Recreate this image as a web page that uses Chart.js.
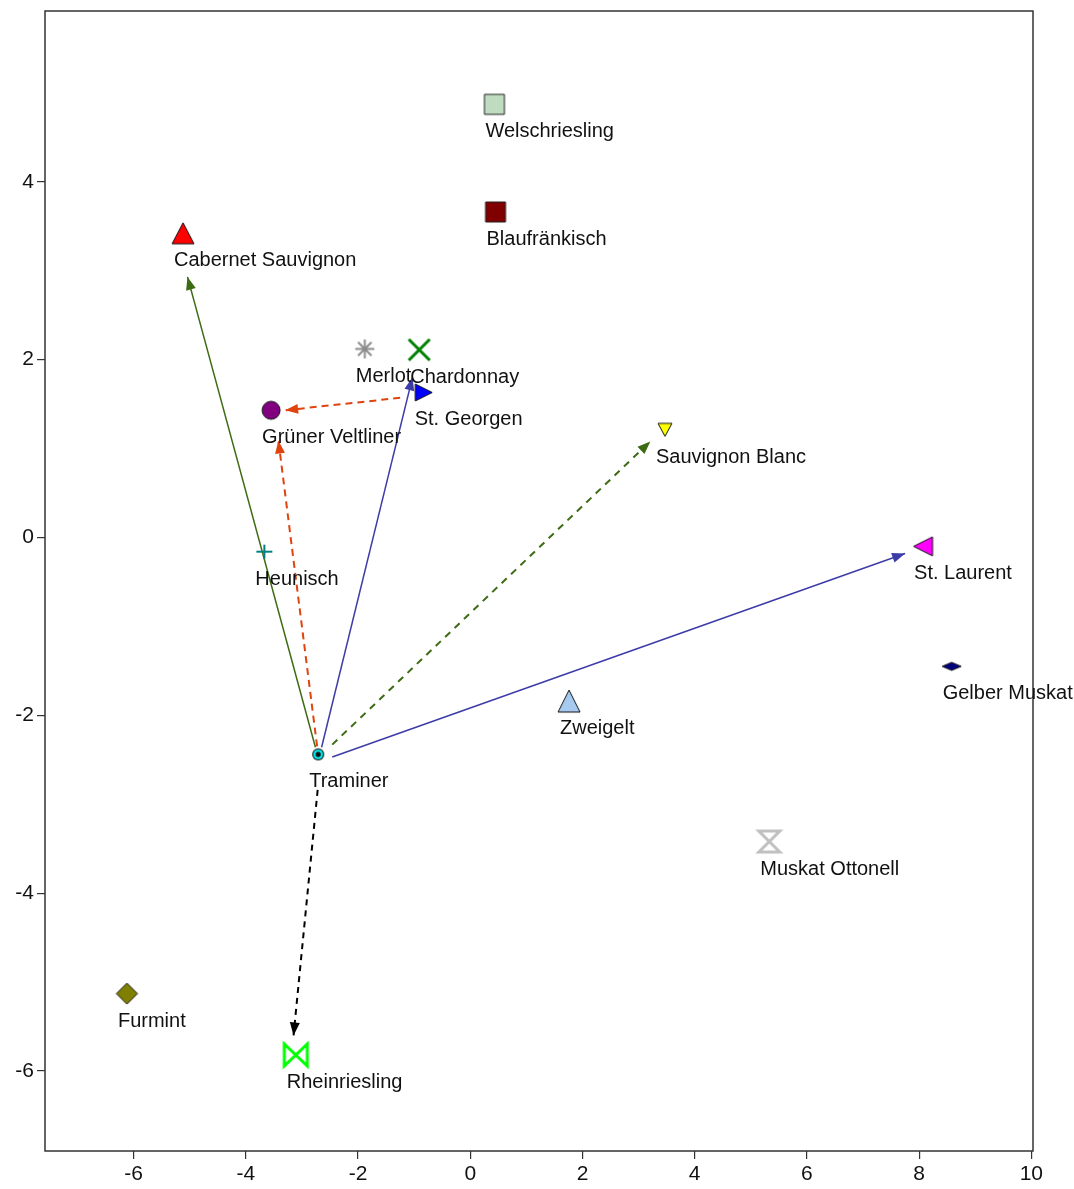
<!DOCTYPE html>
<html>
<head>
<meta charset="utf-8">
<title>Rebsorten – Biplot</title>
<script src="https://cdn.jsdelivr.net/npm/chart.js@4"></script>
<style>
  html, body { margin: 0; padding: 0; background: #ffffff; }
  #wrap { width: 1074px; height: 1189px; }
</style>
</head>
<body>
<div id="wrap"><canvas id="plot" width="1074" height="1189"></canvas></div>
<script>
// Grape varieties and their coordinates on the two map dimensions
const varieties = [
  'Welschriesling', 'Blaufränkisch', 'Cabernet Sauvignon', 'Merlot', 'Chardonnay',
  'St. Georgen', 'Grüner Veltliner', 'Sauvignon Blanc', 'Heunisch', 'St. Laurent',
  'Gelber Muskat', 'Zweigelt', 'Traminer', 'Muskat Ottonell', 'Furmint', 'Rheinriesling'
];
const dimX = [0.43, 0.45, -5.12, -1.88, -0.91, -0.83, -3.55, 3.47, -3.67, 8.07, 8.58, 1.76, -2.71, 5.33, -6.12, -3.11];
const dimY = [4.87, 3.66, 3.42, 2.12, 2.11, 1.63, 1.43, 1.21, -0.16, -0.10, -1.45, -1.84, -2.44, -3.42, -5.13, -5.82];

// Arrows (start and end on the same map coordinates)
const arrowFromX = [-2.76, -2.65, -2.73, -1.25, -2.46, -2.46, -2.72];
const arrowFromY = [-2.36, -2.36, -2.35, 1.57, -2.33, -2.47, -2.84];
const arrowToX   = [-5.04, -1.03, -3.42, -3.30, 3.21, 7.75, -3.15];
const arrowToY   = [2.93, 1.80, 1.09, 1.43, 1.08, -0.18, -5.60];

// Axis ticks
const xTicks = [-6, -4, -2, 0, 2, 4, 6, 8, 10];
const yTicks = [-6, -4, -2, 0, 2, 4];

// ---- Marker look for each variety ----
const markerLook = {
  'Welschriesling':     { kind: 'square',    w: 20, h: 20, fill: '#c0dcc0', stroke: '#222', lw: 1 },
  'Blaufränkisch':      { kind: 'square',    w: 20, h: 20, fill: '#800000', stroke: '#222', lw: 1 },
  'Cabernet Sauvignon': { kind: 'triUp',     w: 22, h: 21, fill: '#ff0000', stroke: '#111', lw: 1 },
  'Merlot':             { kind: 'asterisk',  w: 19, h: 19, fill: 'none',    stroke: '#8c8c8c', lw: 2 },
  'Chardonnay':         { kind: 'cross',     w: 21, h: 21, fill: 'none',    stroke: '#008000', lw: 3 },
  'St. Georgen':        { kind: 'triRight',  w: 17, h: 17, fill: '#0000ff', stroke: '#111', lw: 1 },
  'Grüner Veltliner':   { kind: 'circle',    w: 18, h: 18, fill: '#800080', stroke: '#111', lw: 1 },
  'Sauvignon Blanc':    { kind: 'triDown',   w: 14, h: 13, fill: '#ffff00', stroke: '#111', lw: 1 },
  'Heunisch':           { kind: 'plus',      w: 16, h: 14, fill: 'none',    stroke: '#008080', lw: 2 },
  'St. Laurent':        { kind: 'triLeft',   w: 19, h: 19, fill: '#ff00ff', stroke: '#111', lw: 1 },
  'Gelber Muskat':      { kind: 'diamond',   w: 19, h: 8,  fill: '#000080', stroke: '#111', lw: 1 },
  'Zweigelt':           { kind: 'triUp',     w: 22, h: 22, fill: '#a6caf0', stroke: '#111', lw: 1 },
  'Traminer':           { kind: 'target',    w: 12, h: 12, fill: '#00ffff', stroke: '#111', lw: 1 },
  'Muskat Ottonell':    { kind: 'hourglass', w: 21, h: 21, fill: 'none',    stroke: '#c0c0c0', lw: 3 },
  'Furmint':            { kind: 'diamond',   w: 21, h: 21, fill: '#808000', stroke: '#111', lw: 1 },
  'Rheinriesling':      { kind: 'bowtie',    w: 23, h: 22, fill: 'none',    stroke: '#00ff00', lw: 3 }
};

// ---- Arrow look ----
const arrowLook = [
  { color: '#3d6b14', dash: [],     width: 1.5 },
  { color: '#3c3ca8', dash: [],     width: 1.5 },
  { color: '#e0440e', dash: [7, 5], width: 2 },
  { color: '#e0440e', dash: [7, 5], width: 2 },
  { color: '#3d6b14', dash: [7, 6], width: 2 },
  { color: '#3c3ca8', dash: [],     width: 1.5 },
  { color: '#000000', dash: [6, 5], width: 2 }
];

// Builds a small canvas holding one marker shape, centred in it
function makeMarker(m) {
  const pad = Math.ceil(m.lw) + 1;
  const c = document.createElement('canvas');
  c.width = m.w + pad * 2;
  c.height = m.h + pad * 2;
  const g = c.getContext('2d');
  const cx = c.width / 2, cy = c.height / 2;
  const rx = m.w / 2, ry = m.h / 2;
  g.lineWidth = m.lw;
  g.strokeStyle = m.stroke;
  g.fillStyle = m.fill;
  g.lineJoin = 'miter';
  g.lineCap = 'butt';
  g.beginPath();
  switch (m.kind) {
    case 'square':
      g.rect(cx - rx, cy - ry, m.w, m.h);
      break;
    case 'triUp':
      g.moveTo(cx, cy - ry); g.lineTo(cx + rx, cy + ry); g.lineTo(cx - rx, cy + ry); g.closePath();
      break;
    case 'triDown':
      g.moveTo(cx - rx, cy - ry); g.lineTo(cx + rx, cy - ry); g.lineTo(cx, cy + ry); g.closePath();
      break;
    case 'triRight':
      g.moveTo(cx - rx, cy - ry); g.lineTo(cx + rx, cy); g.lineTo(cx - rx, cy + ry); g.closePath();
      break;
    case 'triLeft':
      g.moveTo(cx + rx, cy - ry); g.lineTo(cx - rx, cy); g.lineTo(cx + rx, cy + ry); g.closePath();
      break;
    case 'circle':
      g.arc(cx, cy, rx, 0, Math.PI * 2);
      break;
    case 'diamond':
      g.moveTo(cx, cy - ry); g.lineTo(cx + rx, cy); g.lineTo(cx, cy + ry); g.lineTo(cx - rx, cy); g.closePath();
      break;
    case 'asterisk': {
      const d = rx * Math.SQRT1_2;
      g.moveTo(cx - rx, cy); g.lineTo(cx + rx, cy);
      g.moveTo(cx, cy - ry); g.lineTo(cx, cy + ry);
      g.moveTo(cx - d, cy - d); g.lineTo(cx + d, cy + d);
      g.moveTo(cx - d, cy + d); g.lineTo(cx + d, cy - d);
      break;
    }
    case 'cross':
      g.moveTo(cx - rx, cy - ry); g.lineTo(cx + rx, cy + ry);
      g.moveTo(cx - rx, cy + ry); g.lineTo(cx + rx, cy - ry);
      break;
    case 'plus':
      g.moveTo(cx - rx, cy); g.lineTo(cx + rx, cy);
      g.moveTo(cx, cy - ry); g.lineTo(cx, cy + ry);
      break;
    case 'hourglass':
      g.moveTo(cx - rx, cy - ry); g.lineTo(cx + rx, cy - ry);
      g.lineTo(cx - rx, cy + ry); g.lineTo(cx + rx, cy + ry);
      g.closePath();
      break;
    case 'bowtie':
      g.moveTo(cx - rx, cy - ry); g.lineTo(cx - rx, cy + ry);
      g.lineTo(cx + rx, cy - ry); g.lineTo(cx + rx, cy + ry);
      g.closePath();
      break;
    case 'target':
      g.arc(cx, cy, rx, 0, Math.PI * 2);
      g.fillStyle = '#111';
      g.fill();
      g.beginPath();
      g.arc(cx, cy, rx - 1.2, 0, Math.PI * 2);
      g.fillStyle = m.fill;
      g.fill();
      g.beginPath();
      g.arc(cx, cy, rx * 0.45, 0, Math.PI * 2);
      g.fillStyle = '#111';
      g.fill();
      return c;
  }
  if (m.fill !== 'none') g.fill();
  g.stroke();
  return c;
}

// One dataset per variety so each keeps its own marker
const pointSets = varieties.map((name, i) => ({
  label: name,
  data: [{ x: dimX[i], y: dimY[i] }],
  pointStyle: makeMarker(markerLook[name]),
  pointRadius: 10,
  pointHoverRadius: 10,
  showLine: false,
  order: 0,
  clip: false,
  isVariety: true
}));

const arrowSets = arrowFromX.map((fx, i) => ({
  label: 'arrow ' + (i + 1),
  data: [{ x: fx, y: arrowFromY[i] }, { x: arrowToX[i], y: arrowToY[i] }],
  showLine: true,
  borderColor: arrowLook[i].color,
  borderWidth: arrowLook[i].width,
  borderDash: arrowLook[i].dash,
  pointRadius: 0,
  pointHoverRadius: 0,
  fill: false,
  tension: 0,
  order: 1,
  clip: false,
  isArrow: true
}));

const LABEL_FONT = '20px "Liberation Sans", Arial, sans-serif';
const AXIS_COLOR = '#333333';

// Box around the plotting area
const framePlugin = {
  id: 'frame',
  beforeDatasetsDraw(chart) {
    const { ctx, chartArea: a } = chart;
    ctx.save();
    ctx.strokeStyle = AXIS_COLOR;
    ctx.lineWidth = 1.5;
    ctx.strokeRect(a.left, a.top, a.right - a.left, a.bottom - a.top);
    ctx.restore();
  }
};

// Filled head at the end of each arrow
const arrowHeadPlugin = {
  id: 'arrowHeads',
  afterDatasetDraw(chart, args) {
    const ds = chart.data.datasets[args.index];
    if (!ds.isArrow) return;
    const pts = args.meta.data;
    const p0 = pts[0], p1 = pts[1];
    const ang = Math.atan2(p1.y - p0.y, p1.x - p0.x);
    const len = 13, half = 5;
    const ctx = chart.ctx;
    ctx.save();
    ctx.fillStyle = ds.borderColor;
    ctx.beginPath();
    ctx.moveTo(p1.x, p1.y);
    ctx.lineTo(p1.x - len * Math.cos(ang) + half * Math.sin(ang), p1.y - len * Math.sin(ang) - half * Math.cos(ang));
    ctx.lineTo(p1.x - len * Math.cos(ang) - half * Math.sin(ang), p1.y - len * Math.sin(ang) + half * Math.cos(ang));
    ctx.closePath();
    ctx.fill();
    ctx.restore();
  }
};

// Variety names written under their markers
const namePlugin = {
  id: 'names',
  afterDatasetsDraw(chart) {
    const ctx = chart.ctx;
    ctx.save();
    ctx.font = LABEL_FONT;
    ctx.fillStyle = '#111111';
    ctx.textAlign = 'left';
    ctx.textBaseline = 'alphabetic';
    chart.data.datasets.forEach((ds, i) => {
      if (!ds.isVariety) return;
      const el = chart.getDatasetMeta(i).data[0];
      ctx.fillText(ds.label, el.x - 9, el.y + 33);
    });
    ctx.restore();
  }
};

const tickFont = { family: '"Liberation Sans", Arial, sans-serif', size: 21 };

new Chart(document.getElementById('plot'), {
  type: 'scatter',
  data: { datasets: [...pointSets, ...arrowSets] },
  options: {
    responsive: false,
    animation: false,
    events: [],
    layout: { padding: { top: 10, right: 41, left: 0, bottom: 0 } },
    plugins: { legend: { display: false }, tooltip: { enabled: false } },
    scales: {
      x: {
        type: 'linear',
        min: -7.58,
        max: 10.03,
        afterBuildTicks: s => { s.ticks = xTicks.map(v => ({ value: v })); },
        afterFit: s => { s.height = 38; s.paddingLeft = 0; s.paddingRight = 0; },
        border: { display: false },
        grid: { drawOnChartArea: false, drawTicks: true, tickLength: 8, color: AXIS_COLOR, lineWidth: 1.2 },
        ticks: { font: tickFont, color: '#111', padding: 3, maxRotation: 0, autoSkip: false, callback: v => String(v) }
      },
      y: {
        type: 'linear',
        min: -6.90,
        max: 5.92,
        afterBuildTicks: s => { s.ticks = yTicks.map(v => ({ value: v })); },
        afterFit: s => { s.width = 45; s.paddingTop = 0; s.paddingBottom = 0; },
        border: { display: false },
        grid: { drawOnChartArea: false, drawTicks: true, tickLength: 8, color: AXIS_COLOR, lineWidth: 1.2 },
        ticks: { font: tickFont, color: '#111', padding: 3, autoSkip: false, callback: v => String(v) }
      }
    }
  },
  plugins: [framePlugin, arrowHeadPlugin, namePlugin]
});
</script>
</body>
</html>
